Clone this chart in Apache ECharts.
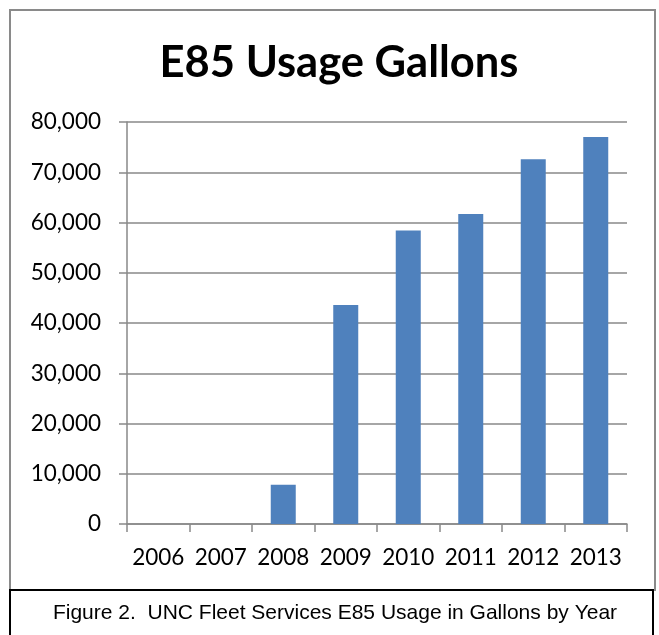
<!DOCTYPE html>
<html>
<head>
<meta charset="utf-8">
<script src="https://cdn.jsdelivr.net/npm/echarts@6/dist/echarts.min.js"></script>
<style>
  html, body { margin: 0; padding: 0; background: #fff; }
  #chart { width: 659px; height: 635px; }
</style>
</head>
<body>
<div id="chart"></div>
<script>
// chart data
const years = ["2006", "2007", "2008", "2009", "2010", "2011", "2012", "2013"]
const gallons = [0, 0, 7800, 43600, 58400, 61700, 72600, 77000]
const yMin = 0
const yMax = 80000
const yStep = 10000

const titleText = "E85 Usage Gallons"
const captionText = "Figure 2.  UNC Fleet Services E85 Usage in Gallons by Year"

const gridGray = "#898989"

const chart = echarts.init(document.getElementById("chart"), null, { renderer: "canvas" })

const option = {
  animation: false,
  backgroundColor: "#fff",
  title: {
    text: titleText,
    left: 334,
    textAlign: "center",
    top: 36,
    textStyle: {
      fontFamily: "Lato",
      fontWeight: "bold",
      fontSize: 43.5,
      color: "#000",
    },
  },
  grid: {
    left: 127,
    right: 32,
    top: 122,
    bottom: 111,
    containLabel: false,
  },
  xAxis: {
    type: "category",
    data: years,
    boundaryGap: true,
    axisLine: { lineStyle: { color: gridGray, width: 1.5 } },
    axisTick: { show: true, interval: 0, alignWithLabel: false, length: 8, lineStyle: { color: gridGray, width: 1.5 } },
    axisLabel: {
      interval: 0,
      margin: 22,
      color: "#000",
      fontFamily: "Lato",
      fontSize: 22.5,
    },
  },
  yAxis: {
    type: "value",
    min: yMin,
    max: yMax,
    interval: yStep,
    axisLine: { show: true, lineStyle: { color: gridGray, width: 1.5 } },
    axisTick: { show: true, length: 8, lineStyle: { color: gridGray, width: 1.5 } },
    axisLabel: {
      margin: 26,
      color: "#000",
      fontFamily: "Lato",
      fontSize: 22.5,
      formatter: (v) => v.toLocaleString("en-US"),
    },
    splitLine: { show: true, lineStyle: { color: gridGray, width: 1.5 } },
  },
  series: [
    {
      name: "E85 Gallons",
      type: "bar",
      data: gallons,
      barCategoryGap: "60%",
      itemStyle: { color: "#4F81BD" },
    },
  ],
  graphic: [
    {
      type: "rect",
      z: 100,
      shape: { x: 10, y: 10, width: 645, height: 580 },
      style: { fill: "none", stroke: "#8a8a8a", lineWidth: 2 },
    },
    {
      type: "rect",
      z: 101,
      shape: { x: 10, y: 590, width: 643, height: 60 },
      style: { fill: "#fff", stroke: "#000", lineWidth: 2 },
    },
    {
      type: "text",
      z: 102,
      x: 335,
      y: 613,
      style: {
        text: captionText,
        fill: "#000",
        font: "21px 'Liberation Sans', Arial, sans-serif",
        align: "center",
        verticalAlign: "middle",
      },
    },
  ],
}

chart.setOption(option)
</script>
</body>
</html>
